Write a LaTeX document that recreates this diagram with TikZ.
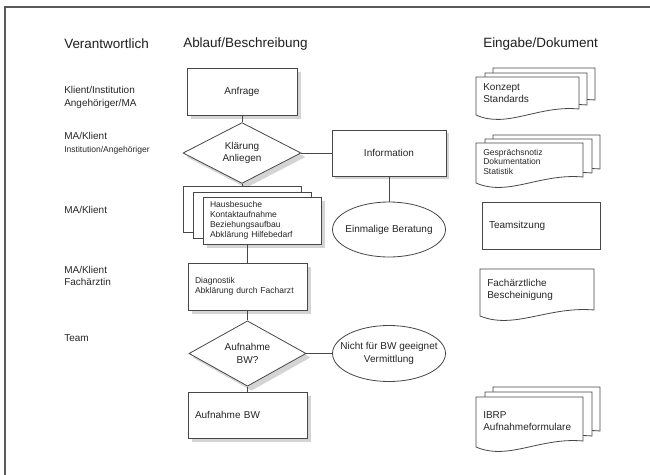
\documentclass[tikz,border=0pt]{standalone}
\usepackage{fontspec}
\setmainfont{Liberation Sans}
\usetikzlibrary{shapes.geometric}
\usetikzlibrary{backgrounds}

% page with wavy lower edge: left, top, width, height
\newcommand{\docpage}[4]{%
  \draw[docline] (#1,#2) -- ({#1+#3},#2) -- ({#1+#3},{#2+#4-6}) .. controls ({#1+0.6*#3},{#2+#4-10}) and ({#1+0.3*#3},{#2+#4+14}) .. (#1,{#2+#4}) -- cycle;}

\begin{document}
\begin{tikzpicture}[x=0.75pt,y=0.75pt,yscale=-1,
    linecol/.style={draw=black!72, line width=0.6pt},
    docline/.style={linecol, fill=white},
    shadowfill/.style={fill=black!17},
    headtxt/.style={font=\fontsize{10.1}{12}\selectfont, text=black!88, inner sep=0pt, anchor=west},
    resptxt/.style={font=\fontsize{7.5}{9.4}\selectfont, text=black!85, inner sep=0pt, anchor=west, align=left},
    smallfont/.style={font=\fontsize{6.4}{7.5}\selectfont},
    midbox/.style={linecol, fill=white, rectangle, inner sep=0pt, text=black!85, font=\fontsize{7.5}{9}\selectfont, align=center},
    leftbox/.style={linecol, fill=white, rectangle, inner xsep=5.25pt, inner ysep=0pt, text=black!85, font=\fontsize{7.5}{9}\selectfont, align=left},
    decision/.style={linecol, fill=white, diamond, inner sep=0pt, text=black!85, font=\fontsize{7.5}{9.4}\selectfont, align=center},
    oval/.style={linecol, fill=white, ellipse, inner xsep=-8pt, inner ysep=0pt, text=black!85, font=\fontsize{7.5}{9.6}\selectfont, align=center},
    connector/.style={linecol}]
    \useasboundingbox (0,0) rectangle (650,475);

    %Shape: Frame
    \draw [black!65, line width=1.5pt] (5,475) -- (5,7) -- (650,7) ;

    % Text Node
    \node [headtxt] (hresp) at (64,44) {Verantwortlich};
    % Text Node
    \node [headtxt] (hflow) at (183,44) {Ablauf/Beschreibung};
    % Text Node
    \node [headtxt] (hdoc) at (483,44) {Eingabe/Dokument};

    % Text Node
    \node [resptxt, font=\fontsize{7.5}{9.75}\selectfont] (resp1) at (64,97.5) {Klient/Institution\\Angehöriger/MA};
    % Text Node
    \node [resptxt] (resp2) at (64,143) {MA/Klient\\{\fontsize{6.4}{8.5}\selectfont Institution/Angehöriger}};
    % Text Node
    \node [resptxt] (resp3) at (64,210) {MA/Klient};
    % Text Node
    \node [resptxt, font=\fontsize{7.5}{9}\selectfont] (resp4) at (64,276) {MA/Klient\\Fachärztin};
    % Text Node
    \node [resptxt] (resp5) at (64,338) {Team};

    %Shape: Flow
    \node [midbox, minimum width=82.5pt, minimum height=35.25pt] (anfrage) at (242,91.5) {Anfrage};
    \node [decision, minimum width=88.5pt, minimum height=34.5pt] (klaerung) at (242,153) {Klärung\\Anliegen};
    \node [midbox, minimum width=85.5pt, minimum height=34.5pt] (info) at (389,153) {Information};
    \node [oval, minimum width=84.75pt, minimum height=41.25pt] (beratung) at (389,229.5) {Einmalige Beratung};

    %Shape: Stack of pages
    \draw [docline] (183,186) rectangle (301,232) ;
    \draw [docline] (193,192) rectangle (311,238) ;
    \coordinate (hausback) at (242,186);
    \node [leftbox, smallfont, text width=78pt, minimum height=35.25pt] (hausbes) at (262,220.5) {Hausbesuche\\Kontaktaufnahme\\Beziehungsaufbau\\Abklärung Hilfebedarf};

    \node [leftbox, smallfont, text width=78.75pt, minimum height=35.25pt] (diagn) at (247.5,286.5) {Diagnostik\\Abklärung durch Facharzt};
    \node [decision, minimum width=87.75pt, minimum height=33.75pt] (aufnfrage) at (247.5,353.5) {Aufnahme\\BW?};
    \node [oval, minimum width=84.75pt, minimum height=42pt] (vermittl) at (389,353.5) {Nicht für BW geeignet\\Vermittlung};
    \node [leftbox, text width=78.75pt, minimum height=34.5pt] (aufnbw) at (247.5,415) {Aufnahme BW};

    %Shape: Documents
    \docpage{493}{68}{102}{38}
    \docpage{485}{73}{102}{38}
    \docpage{476}{77}{103}{38}
    \node [resptxt, font=\fontsize{7.5}{9}\selectfont] (konzept) at (483,93) {Konzept\\Standards};

    \docpage{493}{135}{107}{40}
    \docpage{485}{139}{107}{40}
    \docpage{476}{143}{107}{40}
    \node [resptxt, smallfont, font=\fontsize{6.4}{7.1}\selectfont] (gespraech) at (483,161.5) {Gesprächsnotiz\\Dokumentation\\Statistik};

    \node [leftbox, text width=78pt, minimum height=35.25pt] (teamsitz) at (541,225.5) {Teamsitzung};

    \docpage{480}{269}{114}{47}
    \node [resptxt, font=\fontsize{7.5}{9}\selectfont] (facharzt) at (487,290) {Fachärztliche\\Bescheinigung};

    \docpage{493}{387}{107}{50}
    \docpage{485}{392}{107}{50}
    \docpage{476}{397}{107}{50}
    \node [resptxt, font=\fontsize{7.5}{9}\selectfont] (ibrp) at (483,421) {IBRP\\Aufnahmeformulare};

    %Straight Lines
    \draw [connector] (anfrage.south) -- (klaerung.north) ;
    \draw [connector] (klaerung.east) -- (info.west) ;
    \draw [connector] (info.south) -- (beratung.north) ;
    \draw [connector] (klaerung.south) -- (hausback) ;
    \draw [connector] (diagn.north) -- (diagn.north |- hausbes.south) ;
    \draw [connector] (diagn.south) -- (aufnfrage.north) ;
    \draw [connector] (aufnfrage.east) -- (vermittl.west) ;
    \draw [connector] (aufnfrage.south) -- (aufnbw.north) ;

    %Shadows
    \begin{scope}[on background layer]
    \fill [shadowfill] ([shift={(4,4)}]anfrage.south west) rectangle ([shift={(4,4)}]anfrage.north east) ;
    \fill [shadowfill] ([shift={(3,3)}]info.south west) rectangle ([shift={(3,3)}]info.north east) ;
    \fill [shadowfill] ([shift={(4,4)}]hausbes.south west) rectangle ([shift={(4,4)}]hausbes.north east) ;
    \fill [shadowfill] ([shift={(4,4)}]diagn.south west) rectangle ([shift={(4,4)}]diagn.north east) ;
    \fill [shadowfill] ([shift={(4,4)}]aufnbw.south west) rectangle ([shift={(4,4)}]aufnbw.north east) ;
    \fill [shadowfill] ([shift={(4,4)}]klaerung.north) -- ([shift={(4,4)}]klaerung.east) -- ([shift={(4,4)}]klaerung.south) -- ([shift={(4,4)}]klaerung.west) -- cycle ;
    \fill [shadowfill] ([shift={(4,4)}]aufnfrage.north) -- ([shift={(4,4)}]aufnfrage.east) -- ([shift={(4,4)}]aufnfrage.south) -- ([shift={(4,4)}]aufnfrage.west) -- cycle ;
    \end{scope}

\end{tikzpicture}
\end{document}
